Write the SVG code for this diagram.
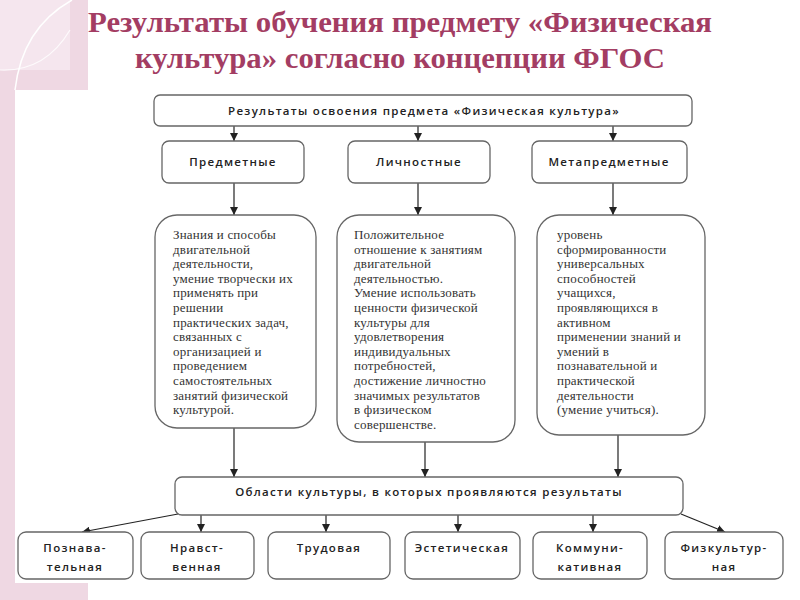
<svg xmlns="http://www.w3.org/2000/svg" width="800" height="600" viewBox="0 0 800 600">
<defs>
<marker id="ah" markerUnits="userSpaceOnUse" markerWidth="9" markerHeight="8" refX="8" refY="4" orient="auto">
<path d="M0,0 L8,4 L0,8 z" fill="#222"/>
</marker>
<style>
.title{font-family:"Liberation Serif","Times New Roman",serif;font-weight:bold;font-size:29px;fill:#a33d63;text-anchor:middle}
.box{fill:#fff;stroke:#666;stroke-width:1.3}
.lbl{font-family:"Open Sans","Liberation Sans",sans-serif;font-size:11.5px;font-weight:600;fill:#222;text-anchor:middle;letter-spacing:1.3px}
.body{font-family:"Liberation Serif","Times New Roman",serif;font-size:13px;fill:#333;letter-spacing:0.2px}
.conn{stroke:#222;stroke-width:1.2;fill:none;marker-end:url(#ah)}
</style>
</defs>
<rect x="0" y="0" width="800" height="600" fill="#fff"/>
<g id="decor">
<rect x="0" y="0" width="88" height="600" fill="#efd8e3"/>
<rect x="0" y="0" width="70" height="70" fill="#f5e6ee"/>
<rect x="15" y="90" width="785" height="493" fill="#fff"/>
<rect x="88" y="0" width="712" height="90" fill="#fff"/>
<path d="M72,0 Q22,28 15,90" stroke="#fff" stroke-width="1.5" fill="none"/>
<path d="M0,70 Q45,72 70,30" stroke="#fff" stroke-width="1.2" fill="none" opacity="0.8"/>
</g>
<g id="title">
<text class="title" x="400" y="32" textLength="624" lengthAdjust="spacingAndGlyphs">Результаты обучения предмету «Физическая</text>
<text class="title" x="400" y="68" textLength="530" lengthAdjust="spacingAndGlyphs">культура» согласно концепции ФГОС</text>
</g>
<g id="connectors">
<line class="conn" x1="234" y1="126" x2="234" y2="141"/>
<line class="conn" x1="418" y1="126" x2="418" y2="141"/>
<line class="conn" x1="613" y1="126" x2="613" y2="141"/>
<line class="conn" x1="234" y1="183" x2="234" y2="215"/>
<line class="conn" x1="418" y1="183" x2="418" y2="215"/>
<line class="conn" x1="613" y1="183" x2="613" y2="215"/>
<line class="conn" x1="234" y1="428" x2="234" y2="477"/>
<line class="conn" x1="425" y1="442" x2="425" y2="477"/>
<line class="conn" x1="618" y1="435" x2="618" y2="477"/>
<line class="conn" x1="178" y1="514" x2="82" y2="532"/>
<line class="conn" x1="201" y1="515" x2="201" y2="532"/>
<line class="conn" x1="326" y1="515" x2="326" y2="532"/>
<line class="conn" x1="458" y1="515" x2="458" y2="532"/>
<line class="conn" x1="593" y1="515" x2="593" y2="532"/>
<line class="conn" x1="681" y1="514" x2="725" y2="532"/>
</g>
<g id="n-root">
<rect class="box" x="154" y="95" width="538" height="31" rx="6"/>
<text class="lbl" x="424" y="115" letter-spacing="0.9" font-weight="normal">Результаты освоения предмета «Физическая культура»</text>
</g>
<g id="n-predmet">
<rect class="box" x="162" y="141" width="142" height="42" rx="7"/>
<text class="lbl" x="233" y="166">Предметные</text>
</g>
<g id="n-lichn">
<rect class="box" x="348" y="141" width="142" height="42" rx="7"/>
<text class="lbl" x="419" y="166">Личностные</text>
</g>
<g id="n-meta">
<rect class="box" x="532" y="141" width="155" height="42" rx="7"/>
<text class="lbl" x="609" y="166">Метапредметные</text>
</g>
<g id="t-predmet">
<rect class="box" x="155" y="215" width="161" height="213" rx="22"/>
<text class="body" x="173" y="239">
<tspan x="173" dy="0">Знания и способы</tspan>
<tspan x="173" dy="14.6">двигательной</tspan>
<tspan x="173" dy="14.6">деятельности,</tspan>
<tspan x="173" dy="14.6">умение творчески их</tspan>
<tspan x="173" dy="14.6">применять при</tspan>
<tspan x="173" dy="14.6">решении</tspan>
<tspan x="173" dy="14.6">практических задач,</tspan>
<tspan x="173" dy="14.6">связанных с</tspan>
<tspan x="173" dy="14.6">организацией и</tspan>
<tspan x="173" dy="14.6">проведением</tspan>
<tspan x="173" dy="14.6">самостоятельных</tspan>
<tspan x="173" dy="14.6">занятий физической</tspan>
<tspan x="173" dy="14.6">культурой.</tspan>
</text>
</g>
<g id="t-lichn">
<rect class="box" x="337" y="215" width="178" height="227" rx="22"/>
<text class="body" x="354" y="239">
<tspan x="354" dy="0">Положительное</tspan>
<tspan x="354" dy="14.6">отношение к занятиям</tspan>
<tspan x="354" dy="14.6">двигательной</tspan>
<tspan x="354" dy="14.6">деятельностью.</tspan>
<tspan x="354" dy="14.6">Умение использовать</tspan>
<tspan x="354" dy="14.6">ценности физической</tspan>
<tspan x="354" dy="14.6">культуры для</tspan>
<tspan x="354" dy="14.6">удовлетворения</tspan>
<tspan x="354" dy="14.6">индивидуальных</tspan>
<tspan x="354" dy="14.6">потребностей,</tspan>
<tspan x="354" dy="14.6">достижение личностно</tspan>
<tspan x="354" dy="14.6">значимых результатов</tspan>
<tspan x="354" dy="14.6">в физическом</tspan>
<tspan x="354" dy="14.6">совершенстве.</tspan>
</text>
</g>
<g id="t-meta">
<rect class="box" x="537" y="215" width="168" height="220" rx="22"/>
<text class="body" x="557" y="239">
<tspan x="557" dy="0">уровень</tspan>
<tspan x="557" dy="14.6">сформированности</tspan>
<tspan x="557" dy="14.6">универсальных</tspan>
<tspan x="557" dy="14.6">способностей</tspan>
<tspan x="557" dy="14.6">учащихся,</tspan>
<tspan x="557" dy="14.6">проявляющихся в</tspan>
<tspan x="557" dy="14.6">активном</tspan>
<tspan x="557" dy="14.6">применении знаний и</tspan>
<tspan x="557" dy="14.6">умений в</tspan>
<tspan x="557" dy="14.6">познавательной и</tspan>
<tspan x="557" dy="14.6">практической</tspan>
<tspan x="557" dy="14.6">деятельности</tspan>
<tspan x="557" dy="14.6">(умение учиться).</tspan>
</text>
</g>
<g id="n-areas">
<rect class="box" x="175" y="477" width="508" height="38" rx="7"/>
<text class="lbl" x="429" y="496" letter-spacing="1">Области культуры, в которых проявляются результаты</text>
</g>
<g id="n-pozn">
<rect class="box" x="18" y="532" width="115" height="47" rx="8"/>
<text class="lbl" x="75" y="552">Познава-</text>
<text class="lbl" x="75" y="571">тельная</text>
</g>
<g id="n-nravst">
<rect class="box" x="141" y="532" width="113" height="47" rx="8"/>
<text class="lbl" x="197" y="552">Нравст-</text>
<text class="lbl" x="197" y="571">венная</text>
</g>
<g id="n-trud">
<rect class="box" x="268" y="532" width="122" height="47" rx="8"/>
<text class="lbl" x="329" y="552">Трудовая</text>
</g>
<g id="n-estet">
<rect class="box" x="405" y="532" width="115" height="47" rx="8"/>
<text class="lbl" x="462" y="552" letter-spacing="0.8">Эстетическая</text>
</g>
<g id="n-komm">
<rect class="box" x="533" y="532" width="114" height="47" rx="8"/>
<text class="lbl" x="590" y="552">Коммуни-</text>
<text class="lbl" x="590" y="571">кативная</text>
</g>
<g id="n-fiz">
<rect class="box" x="665" y="532" width="118" height="47" rx="8"/>
<text class="lbl" x="724" y="552" letter-spacing="1">Физкультур-</text>
<text class="lbl" x="724" y="571">ная</text>
</g>
</svg>
